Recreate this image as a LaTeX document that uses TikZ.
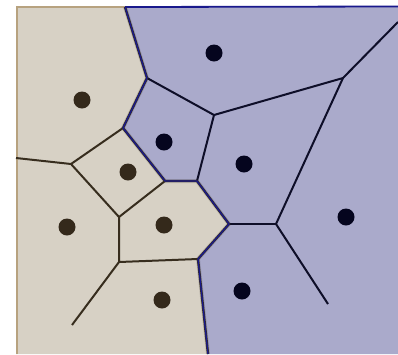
\documentclass[tikz,border=0pt]{standalone}
\begin{document}
\begin{tikzpicture}[x=1pt,y=-1pt,
  beigeedge/.style={draw=edgebrown,line width=2pt},
  blueedge/.style={draw=edgenavy,line width=2pt},
  bdot/.style={circle,fill=dotbrown,inner sep=0pt,minimum size=17pt},
  ndot/.style={circle,fill=dotnavy,inner sep=0pt,minimum size=17pt}]
\definecolor{beigefill}{RGB}{215,209,197}
\definecolor{bluefill}{RGB}{170,170,203}
\definecolor{dotbrown}{RGB}{52,41,27}
\definecolor{dotnavy}{RGB}{5,5,30}
\definecolor{edgebrown}{RGB}{55,45,30}
\definecolor{edgenavy}{RGB}{14,14,40}
\definecolor{borderblue}{RGB}{25,25,140}
\definecolor{tan}{RGB}{183,162,127}
\useasboundingbox (0,0) rectangle (398,354);
\fill[white] (0,0) rectangle (398,354);
% vertices
\coordinate (t1) at (125,7);
\coordinate (v1) at (147,78);
\coordinate (v2) at (123,128);
\coordinate (v3) at (165,181);
\coordinate (v4) at (197,181);
\coordinate (v5) at (229,224);
\coordinate (v6) at (198,259);
\coordinate (b1) at (208,354);
\coordinate (w1) at (16,158);
\coordinate (v7) at (71,164);
\coordinate (v8) at (119,217);
\coordinate (v9) at (119,262);
\coordinate (e1) at (72,325);
\coordinate (u1) at (214,115);
\coordinate (u2) at (343,78);
\coordinate (r1) at (398,22);
\coordinate (u3) at (276,224);
\coordinate (e2) at (328,304);
% regions
\fill[beigefill] (16,7) -- (t1) -- (v1) -- (v2) -- (v3) -- (v4) -- (v5) -- (v6) -- (b1) -- (16,354) -- cycle;
\fill[bluefill] (t1) -- (398,7) -- (398,354) -- (b1) -- (v6) -- (v5) -- (v4) -- (v3) -- (v2) -- (v1) -- cycle;
% soft shadow along boundary
\draw[black,opacity=0.12,line width=4pt,shift={(1.5,2)}] (t1) -- (v1) -- (v2) -- (v3) -- (v4) -- (v5) -- (v6) -- (b1);
% frame lines
\draw[tan,line width=2pt] (16.5,354) -- (16.5,7) -- (t1);
\draw[borderblue,line width=1.8pt] (t1) -- (398,6.5);
% beige inner edges
\draw[beigeedge] (w1) -- (v7) -- (v2);
\draw[beigeedge] (v7) -- (v8) -- (v3);
\draw[beigeedge] (v8) -- (v9) -- (v6);
\draw[beigeedge] (v9) -- (e1);
% blue inner edges
\draw[blueedge] (v1) -- (u1) -- (u2) -- (r1);
\draw[blueedge] (u1) -- (v4);
\draw[blueedge] (u2) -- (u3) -- (e2);
\draw[blueedge] (v5) -- (u3);
% boundary
\draw[edgebrown,line width=2.4pt] (t1) -- (v1) -- (v2) -- (v3) -- (v4) -- (v5) -- (v6) -- (b1);
\draw[borderblue,line width=1.3pt] (t1) -- (v1) -- (v2) -- (v3) -- (v4) -- (v5) -- (v6) -- (b1);
% sites
\node[bdot] (s1) at (82,100) {};
\node[bdot] (s2) at (128,172) {};
\node[bdot] (s3) at (67,227) {};
\node[bdot] (s4) at (164,225) {};
\node[bdot] (s5) at (162,300) {};
\node[ndot] (s6) at (164,142) {};
\node[ndot] (s7) at (214,53) {};
\node[ndot] (s8) at (244,164) {};
\node[ndot] (s9) at (346,217) {};
\node[ndot] (s10) at (242,291) {};
\end{tikzpicture}
\end{document}
